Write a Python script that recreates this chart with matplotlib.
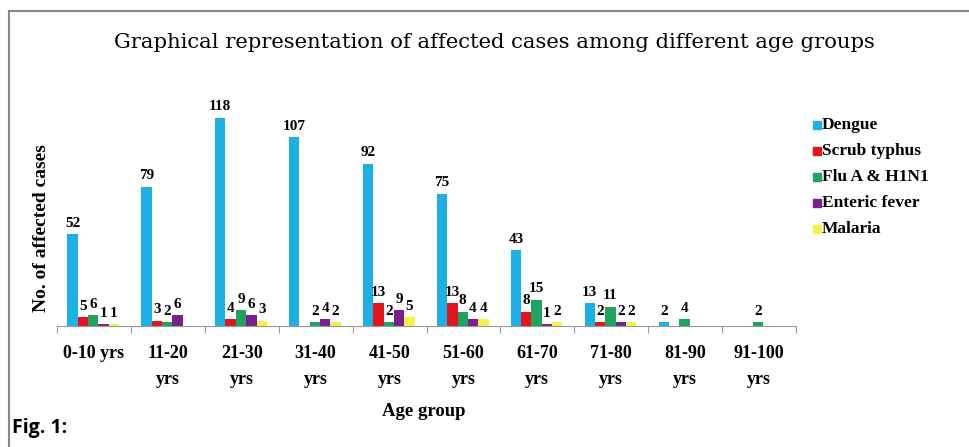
import matplotlib
matplotlib.use("Agg")
import matplotlib.pyplot as plt
from matplotlib.lines import Line2D
from matplotlib.patches import Rectangle
import numpy as np

categories = ["0-10 yrs", "11-20\nyrs", "21-30\nyrs", "31-40\nyrs", "41-50\nyrs",
              "51-60\nyrs", "61-70\nyrs", "71-80\nyrs", "81-90\nyrs", "91-100\nyrs"]
series_names = ["Dengue", "Scrub typhus", "Flu A & H1N1", "Enteric fever", "Malaria"]
dengue = [52, 79, 118, 107, 92, 75, 43, 13, 2, 0]
scrub_typhus = [5, 3, 4, 0, 13, 13, 8, 2, 0, 0]
flu = [6, 2, 9, 2, 2, 8, 15, 11, 4, 2]
enteric = [1, 6, 6, 4, 9, 4, 1, 2, 0, 0]
malaria = [1, 0, 3, 2, 5, 4, 2, 2, 0, 0]
series = [dengue, scrub_typhus, flu, enteric, malaria]
colors = ["#1CB0E6", "#E5141C", "#1FA35E", "#7B1F8E", "#F7F04C"]

W, H = 969, 447
fig = plt.figure(figsize=(W/100, H/100), dpi=100)
serif = "Liberation Serif"

# outer frame
fig.add_artist(Line2D([9/W, 9/W], [0, 1 - 11/H], color="#888888", lw=1.5, transform=fig.transFigure))
fig.add_artist(Line2D([9/W, 1], [1 - 11/H, 1 - 11/H], color="#888888", lw=1.5, transform=fig.transFigure))

ax_l, ax_r = 57, 796
ax_b, ax_t = 326, 100
ax = fig.add_axes([ax_l/W, 1 - ax_b/H, (ax_r-ax_l)/W, (ax_b-ax_t)/H])

n = len(categories)
bw = 0.14
x = np.arange(n)
for i, (vals, c) in enumerate(zip(series, colors)):
    pos = x + 0.5 - 0.37 + bw*(i + 0.5) + 0.01
    ax.bar(pos, vals, width=bw, color=c, edgecolor="none")
    for p, v in zip(pos, vals):
        if v > 0:
            ax.text(p, v + 2.5, str(v), ha="center", va="bottom", fontsize=11,
                    fontweight="bold", family=serif)

ax.set_xlim(0, n)
ax.set_ylim(0, 128)
ax.set_yticks([])
for s in ["top", "right", "left"]:
    ax.spines[s].set_visible(False)
ax.spines["bottom"].set_color("#999999")
ax.set_xticks(np.arange(n + 1))
ax.set_xticklabels([])
ax.tick_params(axis="x", length=5, color="#999999", direction="out")
for i, lab in enumerate(categories):
    ax.text(i + 0.5, -11, lab, ha="center", va="top", fontsize=13, fontweight="bold",
            family=serif, linespacing=1.65)

fig.text(494/W, 1 - 42/H, "Graphical representation of affected cases among different age groups",
         ha="center", va="center", fontsize=15.2, family="DejaVu Serif")
fig.text(42/W, 1 - 228/H, "No. of affected cases", rotation=90, ha="center", va="center",
         fontsize=14, fontweight="bold", family=serif)
fig.text(424/W, 1 - 412/H, "Age group", ha="center", va="center",
         fontsize=13.5, fontweight="bold", family=serif)
fig.text(12/W, 1 - 428/H, "Fig. 1:", ha="left", va="center",
         fontsize=14, fontweight="bold", family="Open Sans")

# legend
for i, (name, c) in enumerate(zip(series_names, colors)):
    yy = 125 + i*26
    fig.add_artist(Rectangle((813/W, 1 - (yy+4)/H), 8/W, 8/H, color=c, transform=fig.transFigure))
    fig.text(822/W, 1 - yy/H, name, ha="left", va="center", fontsize=12.5,
             fontweight="bold", family=serif)

fig.savefig("out.png", dpi=100)
